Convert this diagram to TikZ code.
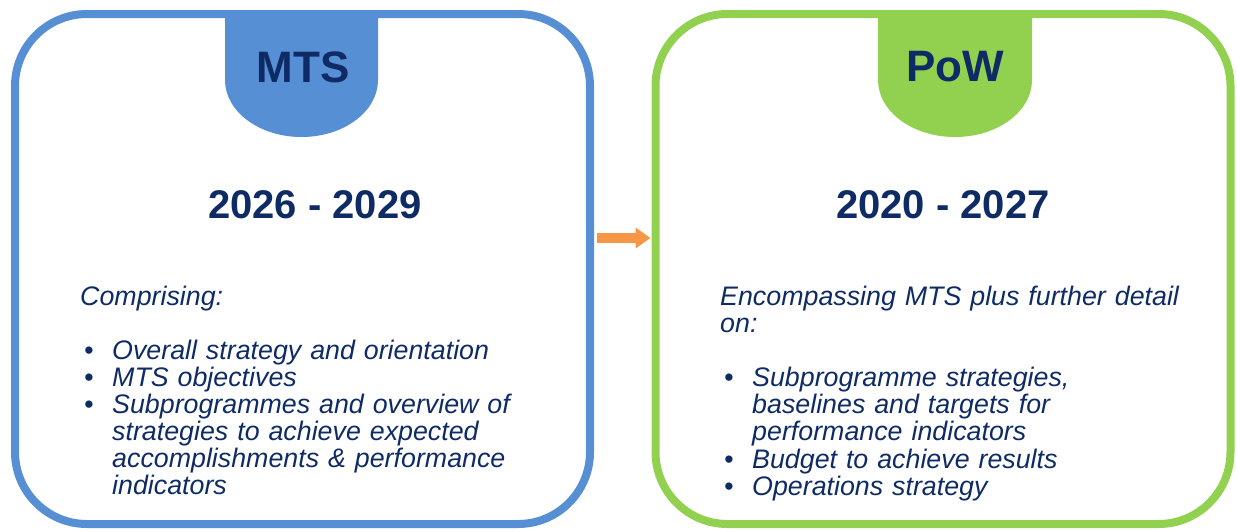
\documentclass[tikz,border=0pt]{standalone}
\usepackage{fontspec}
\setmainfont{Liberation Sans}
\usetikzlibrary{arrows.meta}
\definecolor{mtsblue}{HTML}{578FD5}
\definecolor{powgreen}{HTML}{92D050}
\definecolor{navy}{HTML}{0F2B66}
\definecolor{flowor}{HTML}{F79646}
\tikzstyle{panel}=[draw,line width=8pt,rounded corners=72pt,minimum width=575pt,minimum height=510pt,inner sep=0pt,outer sep=0pt]
\tikzstyle{title}=[text=navy,font=\bfseries\fontsize{44}{44}\selectfont]
\tikzstyle{years}=[text=navy,font=\bfseries\fontsize{40}{40}\selectfont]
\tikzstyle{body}=[text=navy,font=\itshape\fontsize{26.8}{27}\selectfont,anchor=north west,inner sep=0pt,text width=500pt]
\tikzstyle{flow}=[draw=flowor,line width=10pt,-{Triangle[length=15pt,width=20pt]},shorten <=7pt,shorten >=5pt]
\newcommand{\bul}[1]{\par\noindent\makebox[32pt][l]{\hspace*{4pt}\textbullet}\parbox[t]{450pt}{\raggedright #1}}

\begin{document}
\begin{tikzpicture}[x=1pt,y=-1pt]
    \useasboundingbox (0,0) rectangle (1237,531);
    % tabs
    \fill[mtsblue] (225,14) -- (225,80) arc[start angle=180,end angle=0,x radius=76.5,y radius=57] -- (378,14) -- cycle;
    \fill[powgreen] (878,14) -- (878,80) arc[start angle=180,end angle=0,x radius=77,y radius=57] -- (1032,14) -- cycle;
    % panels
    \node[panel,draw=mtsblue] (mts) at (302.5,269) {};
    \node[panel,draw=powgreen] (pow) at (943,269) {};
    \node[title] (mtstitle) at (303,67) {MTS};
    \node[title] (powtitle) at (955,67) {PoW};
    \node[years] (mtsyears) at (315,205) {2026 - 2029};
    \node[years] (powyears) at (943,205) {2020 - 2027};
    \node[body] (mtsbody) at (80,286) {\raggedright\parindent=0pt
        Comprising:\par\vspace{27pt}
        \bul{Overall strategy and orientation}
        \bul{MTS objectives}
        \bul{Subprogrammes and overview of\newline strategies to achieve expected\newline accomplishments \& performance\newline indicators}\par};
    \node[body] (powbody) at (720,286) {\raggedright\parindent=0pt
        Encompassing MTS plus further detail\newline on:\par\vspace{27pt}
        \bul{Subprogramme strategies,\newline baselines and targets for\newline performance indicators}\par\vspace{2pt}
        \bul{Budget to achieve results}
        \bul{Operations strategy}\par};
    \draw[flow] ([yshift=31pt]mts.east) -- ([yshift=31pt]pow.west);
\end{tikzpicture}
\end{document}
